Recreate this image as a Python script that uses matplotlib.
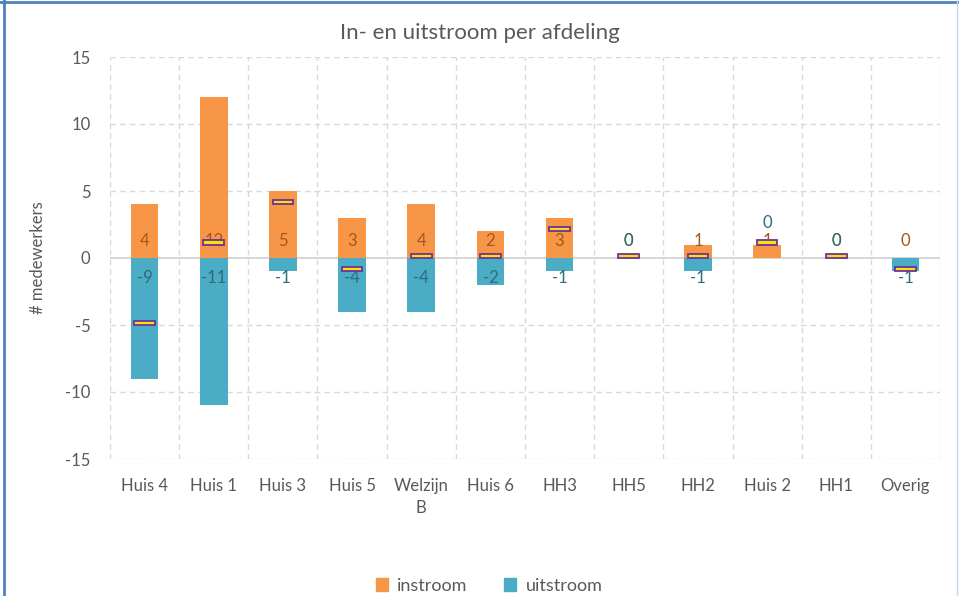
import numpy as np
import matplotlib.pyplot as plt
from matplotlib.lines import Line2D
from matplotlib.patches import Patch

plt.rcParams['font.family'] = ['Lato', 'DejaVu Sans']
plt.rcParams['axes.unicode_minus'] = False

afdelingen = ['Huis 4', 'Huis 1', 'Huis 3', 'Huis 5', 'Welzijn\nB', 'Huis 6',
              'HH3', 'HH5', 'HH2', 'Huis 2', 'HH1', 'Overig']
instroom = np.array([4, 12, 5, 3, 4, 2, 3, 0, 1, 1, 0, 0])
uitstroom = np.array([-9, -11, -1, -4, -4, -2, -1, 0, -1, 0, 0, -1])
netto = instroom + uitstroom

c_in = '#F79646'
c_uit = '#4BACC6'
grijs = '#595959'

fig = plt.figure(figsize=(9.59, 5.96), dpi=100)
ax = fig.add_axes([110 / 959, 1 - 459 / 596, 830 / 959, 402 / 596])

x = np.arange(len(afdelingen))

# grid
for yv in [-15, -10, -5, 5, 10, 15]:
    ax.axhline(yv, color='#D9D9D9', lw=1, ls=(0, (4, 3)), zorder=0)
for xv in np.arange(len(afdelingen) + 1) - 0.5:
    ax.axvline(xv, color='#D9D9D9', lw=1, ls=(0, (4, 3)), zorder=0)
ax.axhline(0, color='#D0D0D0', lw=1.2, zorder=1)

ax.bar(x, instroom, width=0.4, color=c_in, zorder=2)
ax.bar(x, uitstroom, width=0.4, color=c_uit, zorder=2)

# datalabels (Excel "binnenkant basis")
for i in range(len(x)):
    y_in = 1.28
    ax.text(x[i], y_in, str(instroom[i]), ha='center', va='center',
            fontsize=12, color='#A0581F', zorder=3)
    if uitstroom[i] < 0:
        y_uit = -1.5
    elif instroom[i] > 0:
        y_uit = y_in + 1.3
    else:
        y_uit = y_in
    ax.text(x[i], y_uit, str(uitstroom[i]), ha='center', va='center',
            fontsize=12, color='#2F6B7B', zorder=3)

# netto markers
ax.bar(x, 0.32, bottom=netto, width=0.3, color='#F2E600',
       edgecolor='#7030A0', lw=1.3, zorder=4)

ax.set_xlim(-0.5, len(afdelingen) - 0.5)
ax.set_ylim(-15, 15)
ax.set_yticks([-15, -10, -5, 0, 5, 10, 15])
ax.set_xticks(x)
ax.set_xticklabels(afdelingen, linespacing=1.4)
ax.tick_params(axis='both', length=0, labelsize=12, colors=grijs)
ax.tick_params(axis='y', pad=14)
ax.tick_params(axis='x', pad=14)
for s in ax.spines.values():
    s.set_visible(False)
ax.set_ylabel('# medewerkers', fontsize=12, color=grijs, labelpad=14)

fig.text(0.5, 1 - 33 / 596, 'In- en uitstroom per afdeling', ha='center',
         va='center', fontsize=16, color=grijs)

handles = [Patch(color=c_in, label='instroom'), Patch(color=c_uit, label='uitstroom')]
leg = fig.legend(handles=handles, loc='center', bbox_to_anchor=(489 / 959, 1 - 586 / 596),
                 ncol=2, frameon=False, fontsize=13, handlelength=0.7, handleheight=0.7,
                 handletextpad=0.5, columnspacing=2.0)
for t in leg.get_texts():
    t.set_color(grijs)

# kader
fig.add_artist(Line2D([3.5 / 959, 3.5 / 959], [0, 1], transform=fig.transFigure,
                      color='#4F81BD', lw=2))
fig.add_artist(Line2D([0, 1], [1 - 1.5 / 596, 1 - 1.5 / 596], transform=fig.transFigure,
                      color='#4F81BD', lw=2))
fig.add_artist(Line2D([957 / 959, 957 / 959], [0, 1], transform=fig.transFigure,
                      color='#C6D6EB', lw=1))

fig.savefig('out.png', dpi=100)
